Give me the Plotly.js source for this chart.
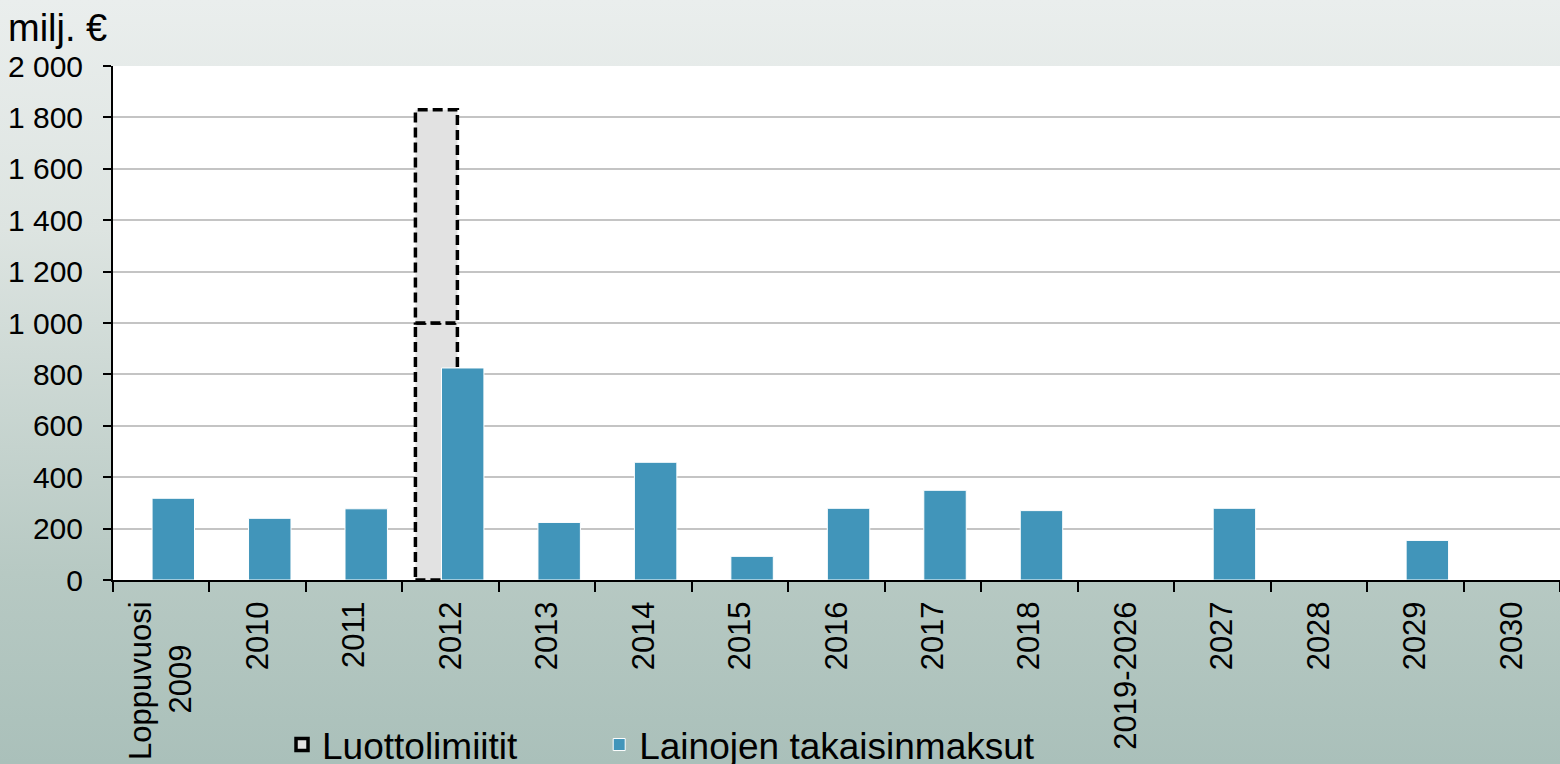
<!DOCTYPE html>
<html>
<head>
<meta charset="utf-8">
<script src="https://cdn.plot.ly/plotly-3.0.1.min.js"></script>
<style>
  html, body { margin: 0; padding: 0; width: 1560px; height: 764px; overflow: hidden;
    background: linear-gradient(to bottom, #eaeeed 0%, #dde4e1 30%, #b7c9c3 75%, #aac0ba 100%); }
  #chart { width: 1560px; height: 790px; }
</style>
</head>
<body>
<div id="chart"></div>
<script>
// ---- data ----
const categories = ['Loppuvuosi<br>2009\u00A0\u00A0\u00A0\u00A0\u00A0', '2010', '2011', '2012', '2013', '2014', '2015', '2016',
  '2017', '2018', '2019-2026', '2027', '2028', '2029', '2030'];
const takaisinmaksut = [318, 240, 277, 825, 224, 458, 92, 279, 349, 270, null, 279, null, 154, null];
const luottoAla = [null, null, null, 1000, null, null, null, null, null, null, null, null, null, null, null];
const luottoYla = [null, null, null, 830, null, null, null, null, null, null, null, null, null, null, null];
const seriesNames = ['Luottolimiitit', 'Lainojen takaisinmaksut'];
const yTitle = 'milj. €';

// ---- style ----
const FONT = 'Liberation Sans, Arial, sans-serif';
const BLUE = '#4195ba';
const LIMIT_FILL = '#e2e2e2';
const LIMIT_OFFSET = -0.365, LIMIT_WIDTH = 0.435;
const BLUE_OFFSET = -0.095, BLUE_WIDTH = 0.44;

// dashed credit-limit boxes, built from the data arrays
const shapes = [];
let first = true;
categories.forEach((c, i) => {
  const lo = luottoAla[i] || 0, hi = luottoYla[i] || 0;
  const segs = [];
  if (lo > 0) segs.push([0, lo]);
  if (hi > 0) segs.push([lo, lo + hi]);
  segs.forEach(s => {
    shapes.push({
      type: 'rect', xref: 'x', yref: 'y', layer: 'between',
      x0: i + LIMIT_OFFSET, x1: i + LIMIT_OFFSET + LIMIT_WIDTH, y0: s[0], y1: s[1],
      fillcolor: LIMIT_FILL,
      line: { color: '#000000', width: 3.5, dash: '10px,5px' },
      showlegend: first, name: seriesNames[0], legend: 'legend'
    });
    first = false;
  });
});

const traces = [
  {
    type: 'bar', name: seriesNames[0], x: categories, y: luottoAla,
    offset: LIMIT_OFFSET, width: LIMIT_WIDTH, showlegend: false,
    marker: { color: 'rgba(0,0,0,0)' }
  },
  {
    type: 'bar', name: seriesNames[0], x: categories, y: luottoYla, base: luottoAla,
    offset: LIMIT_OFFSET, width: LIMIT_WIDTH, showlegend: false,
    marker: { color: 'rgba(0,0,0,0)' }
  },
  {
    type: 'bar', name: seriesNames[1], x: categories, y: takaisinmaksut,
    offset: BLUE_OFFSET, width: BLUE_WIDTH, legend: 'legend2',
    marker: { color: BLUE, line: { color: '#ffffff', width: 1 } }
  }
];

const legendFont = { family: FONT, size: 37, color: '#000' };

const layout = {
  width: 1560, height: 790, autosize: false,
  margin: { l: 113, r: 0, t: 66, b: 210, pad: 0 },
  paper_bgcolor: 'rgba(0,0,0,0)',
  plot_bgcolor: '#ffffff',
  font: { family: FONT, size: 30, color: '#000000' },
  separators: ', ',
  barmode: 'overlay',
  showlegend: true,
  xaxis: {
    type: 'category', range: [-0.5, categories.length - 0.5], automargin: false,
    tickson: 'boundaries', ticks: 'outside', ticklen: 10, tickwidth: 2, tickcolor: '#000',
    showline: true, linecolor: '#000', linewidth: 2, showgrid: false, ticklabelstandoff: 7,
    tickangle: -90, tickfont: { family: FONT, size: 31, color: '#000' }
  },
  yaxis: {
    range: [0, 2000], dtick: 200, tick0: 0, tickformat: ',d', automargin: false,
    showgrid: true, gridcolor: '#c4c4c4', gridwidth: 2,
    showline: true, linecolor: '#000', linewidth: 2, zeroline: false,
    ticks: 'outside', ticklen: 8, tickwidth: 2, tickcolor: '#000', ticklabelstandoff: 14,
    tickfont: { family: FONT, size: 30, color: '#000' }
  },
  legend: {
    orientation: 'h', x: 0.1168, xanchor: 'left', y: -0.321, yanchor: 'middle',
    bgcolor: 'rgba(0,0,0,0)', font: legendFont
  },
  legend2: {
    orientation: 'h', x: 0.336, xanchor: 'left', y: -0.321, yanchor: 'middle',
    bgcolor: 'rgba(0,0,0,0)', font: legendFont
  },
  annotations: [{
    text: yTitle, xref: 'paper', yref: 'paper', x: 0, y: 1, xanchor: 'left', yanchor: 'bottom',
    xshift: -107, yshift: 15, showarrow: false, font: { family: FONT, size: 38, color: '#000' }
  }],
  shapes: shapes
};

Plotly.newPlot('chart', traces, layout, { displayModeBar: false, staticPlot: true });
</script>
</body>
</html>
